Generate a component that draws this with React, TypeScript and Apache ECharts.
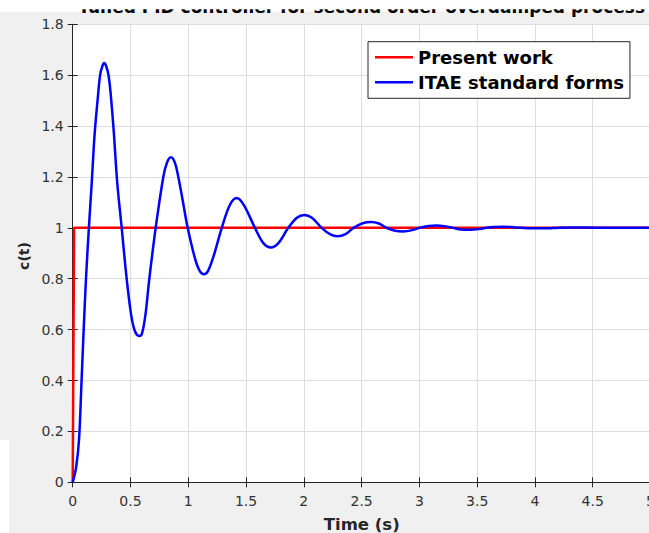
import React, { useEffect, useRef } from "react";
import * as echarts from "echarts";

const titleText = "Tuned PID controller for second order overdamped process";
const xLabel = "Time (s)";
const yLabel = "c(t)";
const legendNames = ["Present work", "ITAE standard forms"];

const presentT = [0, 0.012, 5];
const presentC = [0, 1, 1];

const itaeT = [
  0, 0.03, 0.055, 0.075, 0.095, 0.115, 0.14, 0.165, 0.19, 0.215, 0.237, 0.256, 0.273, 0.29, 0.31, 0.33, 0.355, 0.385,
  0.424, 0.467, 0.505, 0.53, 0.555, 0.578, 0.6, 0.63, 0.663, 0.718, 0.784, 0.815, 0.85, 0.885, 0.914, 0.955, 0.995,
  1.058, 1.1, 1.136, 1.17, 1.22, 1.29, 1.36, 1.419, 1.48, 1.577, 1.65, 1.715, 1.78, 1.865, 1.94,
  2.004, 2.07, 2.154, 2.23, 2.292, 2.36, 2.43, 2.51, 2.58, 2.65, 2.716, 2.79, 2.86, 2.93, 3.0,
  3.08, 3.149, 3.22, 3.29, 3.36, 3.437, 3.51, 3.58, 3.65, 3.725, 3.8, 3.87, 4.0, 4.15, 4.3, 4.45,
  4.6, 4.8, 5.0,
];
const itaeC = [
  0, 0.06, 0.17, 0.38, 0.6, 0.8, 1.0, 1.18, 1.37, 1.5, 1.6, 1.635, 1.648, 1.635, 1.6, 1.52, 1.38, 1.18,
  1.0, 0.8, 0.66, 0.605, 0.58, 0.575, 0.585, 0.66, 0.8, 1.0, 1.2, 1.255, 1.277, 1.255, 1.2, 1.1, 1.0,
  0.88, 0.83, 0.818, 0.83, 0.89, 1.0, 1.09, 1.117, 1.09, 1.0, 0.94, 0.923, 0.94, 1.0, 1.04,
  1.051, 1.04, 1.0, 0.974, 0.967, 0.975, 1.0, 1.018, 1.023, 1.017, 1.0, 0.989, 0.986, 0.99, 1.0,
  1.007, 1.009, 1.006, 1.0, 0.994, 0.993, 0.995, 1.0, 1.003, 1.004, 1.003, 1.0, 0.998, 0.999, 1.001, 1.001,
  1.0, 1.0, 1.0,
];

const FONT = "DejaVu Sans";
const AX = "#262626";

export default function App() {
  const ref = useRef<HTMLDivElement>(null);
  useEffect(() => {
    if (!ref.current) return;
    const chart = echarts.init(ref.current, undefined, { renderer: "svg" });
    const axisCommon = {
      axisLine: { show: true, lineStyle: { color: AX, width: 1 } },
      axisTick: { show: true, inside: true, length: 5, lineStyle: { color: AX, width: 1 } },
    };
    chart.setOption({
      animation: false,
      backgroundColor: "#f0f0f0",
      grid: {
        left: 72.7,
        top: 24.3,
        width: 577.8,
        height: 458,
        show: true,
        backgroundColor: "#ffffff",
        borderWidth: 0,
        containLabel: false,
        outerBoundsMode: "none",
      },
      legend: {
        orient: "vertical",
        left: 368,
        top: 41.7,
        padding: [6.6, 6, 7, 7],
        itemGap: 7,
        itemWidth: 38,
        itemHeight: 2.5,
        icon: "rect",
        backgroundColor: "#ffffff",
        borderColor: AX,
        borderWidth: 1,
        borderRadius: 0,
        itemStyle: { borderWidth: 0 },
        textStyle: { fontFamily: FONT, fontWeight: "bold", fontSize: 18, color: "#000", lineHeight: 18 },
        data: legendNames,
      },
      xAxis: [
        {
          type: "value",
          min: 0,
          max: 5,
          interval: 0.5,
          position: "bottom",
          ...axisCommon,
          axisLabel: {
            show: true,
            margin: 12,
            fontFamily: FONT,
            fontSize: 14,
            lineHeight: 14,
            color: "#333",
            showMaxLabel: true,
            showMinLabel: true,
            hideOverlap: false,
            formatter: (v: number) => String(parseFloat(v.toFixed(1))),
          },
          splitLine: { show: true, lineStyle: { color: "#dedede", width: 1 } },
        },
        {
          type: "value",
          min: 0,
          max: 5,
          interval: 0.5,
          position: "top",
          ...axisCommon,
          axisLabel: { show: false },
          splitLine: { show: false },
        },
      ],
      yAxis: [
        {
          type: "value",
          min: 0,
          max: 1.8,
          interval: 0.2,
          position: "left",
          ...axisCommon,
          axisLabel: {
            show: true,
            margin: 9,
            fontFamily: FONT,
            fontSize: 14,
            color: "#333",
            showMaxLabel: true,
            formatter: (v: number) => String(parseFloat(v.toFixed(1))),
          },
          splitLine: { show: true, lineStyle: { color: "#dedede", width: 1 } },
        },
        {
          type: "value",
          min: 0,
          max: 1.8,
          interval: 0.2,
          position: "right",
          ...axisCommon,
          axisLabel: { show: false },
          splitLine: { show: false },
        },
      ],
      series: [
        {
          name: legendNames[0],
          type: "line",
          xAxisIndex: 0,
          yAxisIndex: 0,
          showSymbol: false,
          symbol: "none",
          color: "#ff0000",
          lineStyle: { color: "#ff0000", width: 2.5 },
          data: presentT.map((t, i) => [t, presentC[i]]),
        },
        {
          name: legendNames[1],
          type: "line",
          xAxisIndex: 0,
          yAxisIndex: 0,
          showSymbol: false,
          symbol: "none",
          smooth: 0.35,
          color: "#0000ff",
          lineStyle: { color: "#0000ff", width: 2.5 },
          data: itaeT.map((t, i) => [t, itaeC[i]]),
        },
      ],
      graphic: [
        { type: "rect", z: 1, shape: { x: 0, y: 0, width: 649, height: 11.7 }, style: { fill: "#ffffff" } },
        { type: "rect", z: 1, shape: { x: 0, y: 440, width: 9, height: 93 }, style: { fill: "#ffffff" } },
        {
          type: "text",
          z: 2,
          x: 361.6,
          y: 7,
          style: {
            text: titleText,
            fontFamily: FONT,
            fontWeight: "bold",
            fontSize: 17,
            fill: "#000",
            textAlign: "center",
            textVerticalAlign: "middle",
          },
        },
        { type: "rect", z: 3, shape: { x: 0, y: 0, width: 649, height: 9.3 }, style: { fill: "#ffffff" } },
        {
          type: "text",
          z: 2,
          x: 361.7,
          y: 524.3,
          style: {
            text: xLabel,
            fontFamily: FONT,
            fontWeight: "bold",
            fontSize: 16.5,
            fill: AX,
            textAlign: "center",
            textVerticalAlign: "middle",
          },
        },
        {
          type: "text",
          z: 2,
          x: 24.1,
          y: 256,
          rotation: Math.PI / 2,
          style: {
            text: yLabel,
            fontFamily: FONT,
            fontWeight: "bold",
            fontSize: 14,
            fill: AX,
            textAlign: "center",
            textVerticalAlign: "middle",
          },
        },
      ],
    });
    return () => chart.dispose();
  }, []);
  return (
    <div
      ref={ref}
      style={{ position: "fixed", left: 0, top: 0, width: 649, height: 533 }}
    />
  );
}
